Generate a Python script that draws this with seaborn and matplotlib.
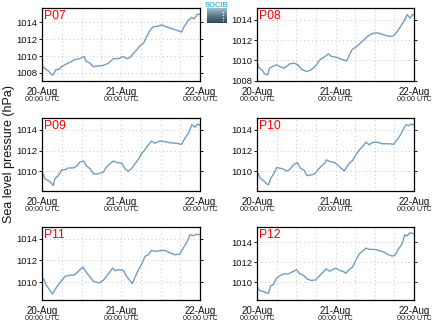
import numpy as np
import pandas as pd
import matplotlib
matplotlib.use("Agg")
import matplotlib.pyplot as plt
import seaborn as sns

stations = ["P07", "P08", "P09", "P10", "P11", "P12"]
day_labels = ["20-Aug", "21-Aug", "22-Aug"]
time_label = "00:00 UTC"
y_label = "Sea level pressure (hPa)"
logo_text = "SOCIB"

hours_p07 = [0, 0.9, 1.9, 2.9, 3.4, 4.2, 5.0, 6.0, 7.5, 9.0, 10.0, 11.5, 12.8, 13.4, 14.6, 15.6, 16.6, 18.6, 20.2,
             21.7, 23.2, 24.7, 25.7, 26.7, 27.7, 28.8, 29.8, 30.8, 31.8, 32.8, 33.8, 34.8, 36.4, 37.9, 39.9, 42.4,
             43.1, 44.5, 45.5, 46.2, 47.2, 48.0]
pres_p07 = [1008.9, 1008.5, 1008.25, 1007.8, 1007.75, 1008.4, 1008.4, 1008.75, 1009.1, 1009.35, 1009.6, 1009.7,
            1009.95, 1009.4, 1009.15, 1008.75, 1008.8, 1008.9, 1009.15, 1009.7, 1009.7, 1009.95, 1009.7, 1009.8,
            1010.3, 1010.75, 1011.25, 1011.5, 1012.3, 1013.05, 1013.5, 1013.5, 1013.7, 1013.45, 1013.2, 1012.85,
            1013.45, 1014.25, 1014.6, 1014.4, 1014.95, 1014.95]

hours_p08 = [0, 0.7, 1.7, 2.3, 3.3, 3.8, 4.8, 5.9, 6.9, 8.4, 10.0, 11.5, 12.5, 13.6, 15.1, 16.6, 18.2, 19.2, 20.8,
             21.8, 22.8, 24.4, 25.9, 27.4, 28.3, 29.0, 30.5, 31.6, 32.8, 33.6, 34.6, 35.7, 37.2, 38.7, 40.3, 41.8,
             42.9, 43.9, 44.9, 45.9, 46.8, 47.5, 48.0]
pres_p08 = [1009.8, 1009.23, 1009.0, 1008.67, 1008.57, 1009.23, 1009.4, 1009.56, 1009.4, 1009.23, 1009.66,
            1009.72, 1009.56, 1009.13, 1008.9, 1009.07, 1009.56, 1010.05, 1010.38, 1010.64, 1010.38, 1010.3,
            1010.1, 1009.95, 1010.55, 1011.05, 1011.37, 1011.7, 1012.03, 1012.3, 1012.52, 1012.68, 1012.68,
            1012.52, 1012.36, 1012.42, 1012.85, 1013.34, 1013.84, 1014.5, 1014.16, 1014.5, 1014.5]

hours_p09 = [0, 0.9, 1.9, 2.9, 3.4, 3.9, 5.0, 6.0, 7.0, 8.0, 9.5, 10.5, 11.5, 12.6, 13.6, 14.6, 15.6, 17.1, 18.6,
             19.6, 20.7, 21.7, 22.7, 24.2, 25.2, 26.2, 27.2, 28.3, 29.3, 30.3, 31.3, 32.3, 33.3, 34.3, 35.8, 37.4,
             38.9, 40.9, 42.4, 43.4, 44.5, 45.5, 46.5, 47.2, 48.0]
pres_p09 = [1010.0, 1009.28, 1009.12, 1008.86, 1008.63, 1009.28, 1009.6, 1010.16, 1010.16, 1010.33, 1010.33,
            1010.49, 1010.9, 1011.0, 1010.49, 1010.26, 1009.77, 1009.77, 1009.93, 1010.42, 1010.75, 1011.0,
            1010.85, 1010.8, 1010.26, 1010.0, 1010.26, 1010.75, 1011.17, 1011.72, 1012.11, 1012.54, 1012.93,
            1012.7, 1012.93, 1012.86, 1012.76, 1012.7, 1012.6, 1013.19, 1013.67, 1014.49, 1014.26, 1014.55, 1014.46]

hours_p10 = [0, 1.0, 2.0, 3.0, 3.5, 4.2, 5.2, 6.0, 7.6, 9.1, 10.1, 11.1, 12.3, 13.3, 14.3, 15.3, 16.6, 17.6, 18.6,
             19.7, 20.7, 21.2, 22.2, 23.7, 24.7, 25.7, 26.7, 27.4, 28.2, 29.2, 30.2, 31.3, 32.3, 33.3, 34.3, 35.3,
             36.8, 38.3, 40.3, 41.8, 42.8, 43.9, 44.9, 45.6, 46.4, 47.2, 48.0]
pres_p10 = [1010.03, 1009.32, 1009.1, 1008.77, 1008.7, 1009.32, 1009.8, 1010.35, 1010.26, 1010.03, 1010.2, 1010.6,
            1010.84, 1010.29, 1010.13, 1009.58, 1009.65, 1009.74, 1010.13, 1010.52, 1010.77, 1011.1, 1010.94,
            1010.84, 1010.6, 1010.29, 1010.03, 1010.39, 1010.77, 1011.03, 1011.58, 1012.06, 1012.39, 1012.8,
            1012.55, 1012.77, 1012.8, 1012.65, 1012.65, 1012.6, 1013.03, 1013.52, 1014.16, 1014.48, 1014.39,
            1014.55, 1014.45]

hours_p11 = [0, 0.6, 1.2, 1.9, 2.6, 3.2, 3.9, 5.0, 6.0, 7.0, 8.5, 10.0, 11.0, 12.4, 13.6, 14.6, 15.6, 17.4, 18.6,
             19.8, 20.7, 21.5, 22.2, 23.2, 24.7, 25.7, 26.7, 27.4, 28.3, 29.3, 30.3, 31.3, 32.3, 33.3, 34.3, 35.8,
             37.4, 38.9, 40.4, 41.9, 42.9, 43.9, 45.0, 45.8, 47.0, 48.0]
pres_p11 = [1010.43, 1010.22, 1009.75, 1009.45, 1009.14, 1008.89, 1009.29, 1009.75, 1010.15, 1010.52, 1010.62,
            1010.68, 1010.98, 1011.38, 1010.83, 1010.46, 1010.06, 1009.91, 1010.15, 1010.62, 1010.98, 1011.29,
            1011.05, 1011.14, 1011.08, 1010.52, 1010.15, 1009.85, 1010.46, 1011.14, 1011.66, 1012.37, 1012.52,
            1012.92, 1012.83, 1012.89, 1012.92, 1012.68, 1012.52, 1012.58, 1013.14, 1013.6, 1014.37, 1014.28,
            1014.4, 1014.37]

hours_p12 = [0, 0.8, 2.0, 3.0, 3.5, 4.2, 5.0, 5.8, 7.1, 8.1, 9.6, 10.6, 12.1, 13.1, 14.3, 15.3, 16.6, 17.9, 19.2,
             20.4, 21.2, 22.2, 23.2, 24.2, 25.2, 26.2, 27.2, 28.2, 29.2, 30.2, 31.3, 32.3, 33.3, 34.3, 35.8, 37.3,
             38.8, 40.3, 41.3, 42.3, 43.3, 44.4, 45.2, 45.9, 46.7, 47.4, 48.0]
pres_p12 = [1009.57, 1009.17, 1009.07, 1008.93, 1008.9, 1009.67, 1009.73, 1010.33, 1010.67, 1010.83, 1010.83,
            1011.0, 1011.23, 1010.83, 1010.67, 1010.33, 1010.17, 1010.23, 1010.67, 1011.07, 1011.33, 1011.1,
            1011.27, 1011.4, 1011.17, 1011.1, 1010.9, 1011.27, 1011.5, 1012.17, 1012.83, 1013.1, 1013.4, 1013.27,
            1013.27, 1013.17, 1013.0, 1012.73, 1012.6, 1012.73, 1013.33, 1013.83, 1014.73, 1014.6, 1014.93,
            1014.87, 1014.83]

hours_all = [hours_p07, hours_p08, hours_p09, hours_p10, hours_p11, hours_p12]
pres_all = [pres_p07, pres_p08, pres_p09, pres_p10, pres_p11, pres_p12]
y_limits = [(1007.05, 1015.7), (1007.97, 1015.15), (1008.11, 1015.14),
            (1008.1, 1015.13), (1008.34, 1015.08), (1008.23, 1015.5)]
y_ticks = [[1008, 1010, 1012, 1014], [1008, 1010, 1012, 1014], [1010, 1012, 1014],
           [1010, 1012, 1014], [1010, 1012, 1014], [1010, 1012, 1014]]
day_hours = [0, 24, 48]
grid_hours = [0, 6, 12, 18, 24, 30, 36, 42, 48]

sns.set_style("white")
plt.rcParams['font.family'] = ['Liberation Sans', 'DejaVu Sans']

W, H = 434, 327
fig = plt.figure(figsize=(W / 100, H / 100), dpi=100)
fig.patch.set_facecolor("white")

col_px = [(42, 158), (257, 157)]
row_px = [(8, 73), (118, 73), (227, 73)]
line_color = "#6f9dc8"

for i, st in enumerate(stations):
    r, c = divmod(i, 2)
    x0, w = col_px[c]
    y0, h = row_px[r]
    ax = fig.add_axes([x0 / W, 1 - (y0 + h) / H, w / W, h / H])
    df = pd.DataFrame({"hour": hours_all[i], "pressure": pres_all[i]})
    sns.lineplot(data=df, x="hour", y="pressure", ax=ax, color=line_color, lw=1.0)
    ax.set_xlim(0, 48)
    ax.set_ylim(*y_limits[i])
    ax.set_xticks(day_hours)
    ax.set_xticklabels(day_labels)
    ax.set_xticks(grid_hours, minor=True)
    ax.set_yticks(y_ticks[i])
    ax.set_yticklabels([str(v) for v in y_ticks[i]])
    ax.set_xlabel("")
    ax.set_ylabel("")
    ax.xaxis.grid(True, which="both", ls=(0, (1, 3)), color="#c4c4c4", lw=0.7)
    ax.yaxis.grid(True, which="major", ls=(0, (1, 3)), color="#c4c4c4", lw=0.7)
    ax.set_axisbelow(True)
    for sp in ax.spines.values():
        sp.set_visible(True)
        sp.set_color("black")
        sp.set_linewidth(0.9)
    ax.tick_params(axis="x", which="both", length=0, pad=4, labelsize=7, colors="#111111")
    ax.tick_params(axis="y", which="major", left=True, right=True, direction="out", length=2,
                   width=0.7, pad=1.5, labelsize=6.8, colors="#111111")
    for hh in day_hours:
        ax.annotate(time_label, xy=(hh, 0), xycoords=("data", "axes fraction"),
                    xytext=(0, -13), textcoords="offset points", ha="center", va="center",
                    fontsize=5.2, color="#222222")
    ax.text(0.015, 0.975, st, transform=ax.transAxes, ha="left", va="top",
            fontsize=8.8, color="red")

fig.text(0.02, 0.53, y_label, rotation=90, ha="center", va="center", fontsize=9, color="#111111")

# logo
lax = fig.add_axes([207 / W, 1 - 23 / H, 20 / W, 15 / H])
grad = np.linspace(0, 1, 50).reshape(-1, 1)
lax.imshow(grad, aspect="auto", cmap=matplotlib.colors.LinearSegmentedColormap.from_list(
    "lg", ["#9fc0cc", "#5e7c8c", "#2f4656"]), extent=(0, 1, 0, 1))
lax.plot([0.78, 0.78], [0.15, 0.9], color="white", ls=(0, (1, 1.5)), lw=0.8)
lax.set_xlim(0, 1)
lax.set_ylim(0, 1)
lax.axis("off")
fig.text(217 / W, 1 - 5.5 / H, logo_text, ha="center", va="center", fontsize=5.5,
         color="#3cc0d8", fontweight="bold")

fig.savefig("out.png", dpi=100)
